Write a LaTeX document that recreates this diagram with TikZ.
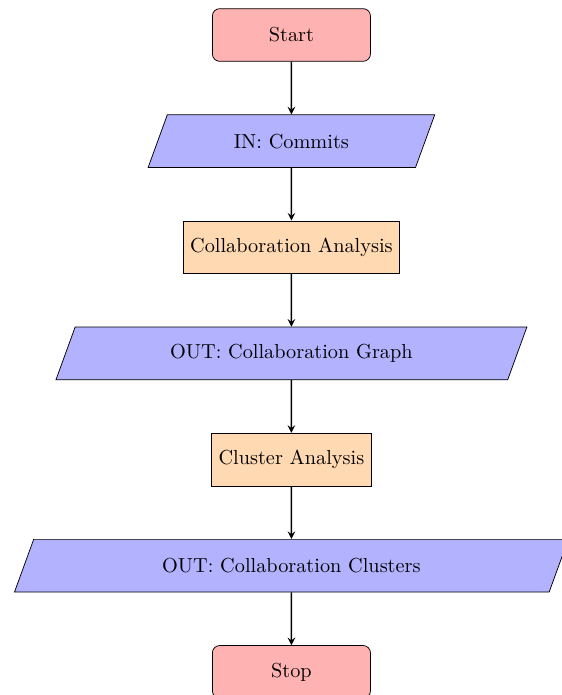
\documentclass[tikz,border=0pt,11pt]{standalone}
\usepackage{tikz}
\usetikzlibrary{positioning,shapes.geometric,arrows}

\begin{document}
\begin{tikzpicture}[x=1cm,y=1cm,node distance=1cm,
    startstop/.style={rectangle,rounded corners,minimum width=3cm,minimum height=1cm,text centered,draw=black,fill=red!30},
    io/.style={trapezium,trapezium left angle=70,trapezium right angle=110,minimum width=3cm,minimum height=1cm,inner xsep=4.9pt,text centered,draw=black,fill=blue!30},
    process/.style={rectangle,minimum width=3cm,minimum height=1cm,text centered,draw=black,fill=orange!30},
    arrow/.style={thick,->,>=stealth}]
        \useasboundingbox (-5.53,0.664) rectangle (5.13,-12.524);
        \node[startstop] (start) at (0,0) {Start};
        \node[io,below=of start] (commits) {IN: Commits};
        \node[process,below=of commits] (collab) {Collaboration Analysis};
        \node[io,below=of collab] (graph) {OUT: Collaboration Graph};
        \node[process,below=of graph] (cluster) {Cluster Analysis};
        \node[io,below=of cluster] (clusters) {OUT: Collaboration Clusters};
        \node[startstop,below=of clusters] (stop) {Stop};
        \draw[arrow] (start) -- (commits);
        \draw[arrow] (commits) -- (collab);
        \draw[arrow] (collab) -- (graph);
        \draw[arrow] (graph) -- (cluster);
        \draw[arrow] (cluster) -- (clusters);
        \draw[arrow] (clusters) -- (stop);
      \end{tikzpicture}
\end{document}
